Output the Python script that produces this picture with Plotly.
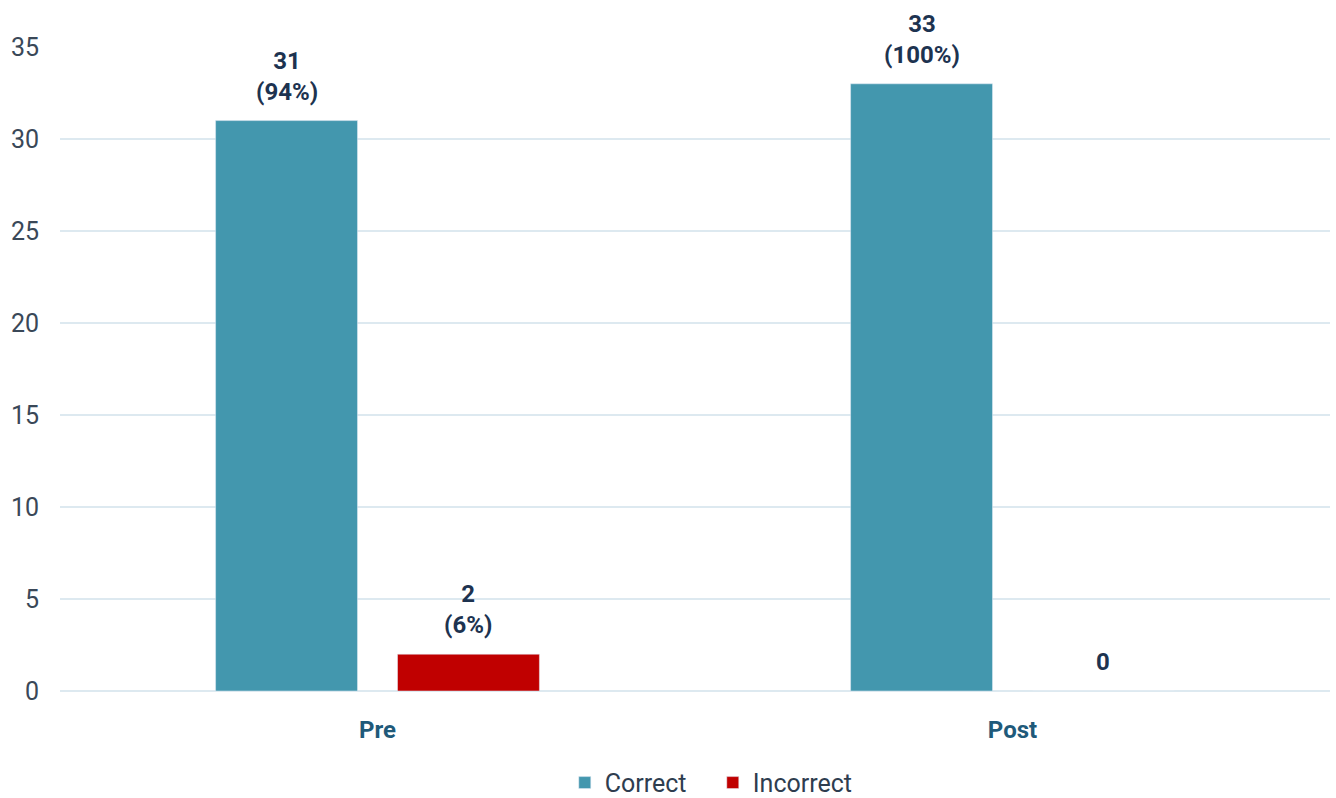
import plotly.graph_objects as go

categories = ["Pre", "Post"]
correct = [31, 33]
incorrect = [2, 0]
correct_pct = [94, 100]
incorrect_pct = [6, None]
y_ticks = [0, 5, 10, 15, 20, 25, 30, 35]

BARGAP = 0.427
BARGROUPGAP = 0.22


def label(v, p):
    return f"{v}<br>({p}%)" if p is not None else f"{v}"


font_family = "Roboto"
label_font = dict(family=font_family, size=24, color="#1d3350", weight="bold")

fig = go.Figure()
fig.add_trace(go.Bar(name="Correct", x=categories, y=correct, marker_color="#4397ae"))
fig.add_trace(go.Bar(name="Incorrect", x=categories, y=incorrect, marker_color="#c00000"))

# value labels above each bar, centred on the grouped bar positions
slot = (1 - BARGAP) / 2
series = [(correct, correct_pct, -slot / 2), (incorrect, incorrect_pct, slot / 2)]
for values, pcts, offset in series:
    for i, (v, p) in enumerate(zip(values, pcts)):
        fig.add_annotation(
            x=i + offset, y=v, xref="x", yref="y",
            text=label(v, p), showarrow=False,
            xanchor="center", yanchor="bottom", yshift=13,
            font=label_font,
        )

fig.update_layout(
    width=1336, height=798,
    margin=dict(l=60, r=6, t=47, b=107),
    paper_bgcolor="white", plot_bgcolor="white",
    barmode="group", bargap=BARGAP, bargroupgap=BARGROUPGAP,
    font=dict(family=font_family),
    legend=dict(
        orientation="h", x=0.514, xanchor="center",
        y=0.019, yanchor="middle", yref="container",
        font=dict(size=25, color="#2e3d4f"),
        entrywidth=103, entrywidthmode="pixels",
    ),
    showlegend=True,
)
fig.update_yaxes(
    range=[0, 35], tickvals=y_ticks,
    showgrid=True, gridcolor="#dde9f0", gridwidth=2,
    zeroline=True, zerolinecolor="#dde9f0", zerolinewidth=2,
    tickfont=dict(size=25, color="#3a4858"), ticks="", ticklabelstandoff=20,
)
fig.update_xaxes(
    showline=False, ticks="",
    tickfont=dict(size=24, color="#1f5a7a", weight="bold"),
    ticklabelstandoff=22,
)

fig.write_html("out.html")
